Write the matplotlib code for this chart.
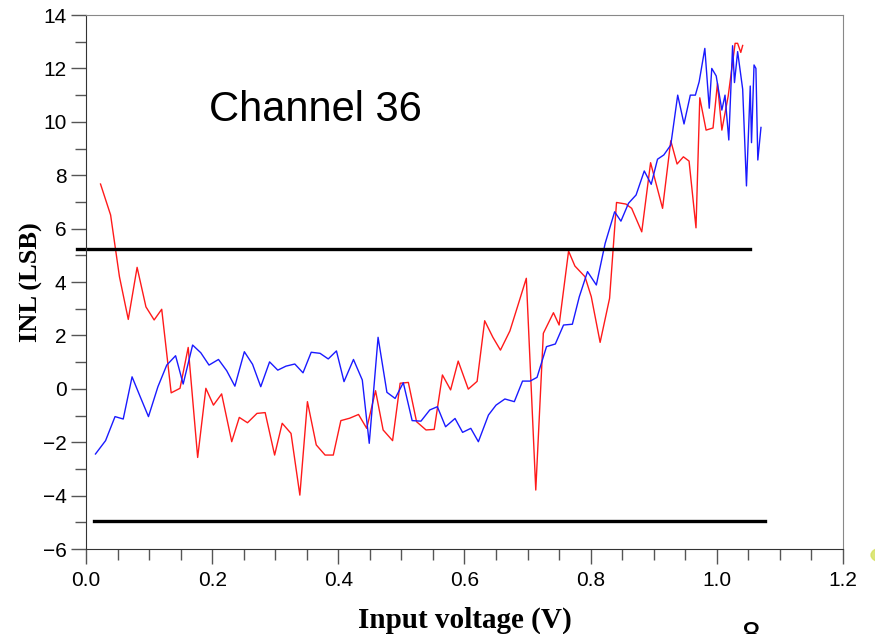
import matplotlib
matplotlib.use('Agg')
import matplotlib.pyplot as plt
from matplotlib.ticker import MultipleLocator
from matplotlib.patches import Circle

plt.rcParams['font.family'] = ['Liberation Sans', 'DejaVu Sans']

# INL curves for channel 36, two runs (red / blue)
red_v = [0.023, 0.039, 0.053, 0.067, 0.081, 0.095, 0.108, 0.120, 0.135, 0.149,
         0.162, 0.177, 0.190, 0.202, 0.215, 0.231, 0.243, 0.256, 0.271, 0.284,
         0.299, 0.311, 0.325, 0.339, 0.351, 0.365, 0.379, 0.392, 0.404, 0.418,
         0.432, 0.445, 0.459, 0.471, 0.486, 0.498, 0.511, 0.524, 0.539, 0.552,
         0.565, 0.578, 0.590, 0.606, 0.620, 0.632, 0.645, 0.657, 0.672, 0.685,
         0.698, 0.713, 0.725, 0.741, 0.750, 0.765, 0.775, 0.791, 0.801, 0.815,
         0.830, 0.841, 0.856, 0.865, 0.881, 0.895, 0.914, 0.927, 0.937, 0.947,
         0.956, 0.967, 0.973, 0.983, 0.994, 1.001, 1.008, 1.018, 1.029, 1.033,
         1.038, 1.041]
red_inl = [7.67, 6.51, 4.20, 2.60, 4.55, 3.07, 2.58, 2.98, -0.15, 0.02,
           1.55, -2.57, 0.02, -0.61, -0.19, -1.98, -1.07, -1.27, -0.92, -0.89,
           -2.48, -1.29, -1.67, -3.98, -0.48, -2.10, -2.48, -2.48, -1.19, -1.10,
           -0.96, -1.48, -0.07, -1.54, -1.94, 0.21, 0.24, -1.23, -1.54, -1.52,
           0.52, -0.04, 1.04, -0.01, 0.28, 2.55, 1.93, 1.45, 2.17, 3.15,
           4.14, -3.79, 2.08, 2.85, 2.39, 5.16, 4.60, 4.20, 3.45, 1.74,
           3.39, 6.98, 6.92, 6.76, 5.88, 8.47, 6.76, 9.29, 8.42, 8.69,
           8.53, 6.03, 10.9, 9.69, 9.77, 11.44, 9.69, 10.96, 12.94, 12.94,
           12.60, 12.86]

blue_v = [0.015, 0.031, 0.046, 0.059, 0.073, 0.086, 0.099, 0.114, 0.128, 0.142,
          0.154, 0.169, 0.182, 0.195, 0.210, 0.223, 0.236, 0.251, 0.264, 0.277,
          0.291, 0.304, 0.317, 0.331, 0.344, 0.357, 0.371, 0.384, 0.397, 0.409,
          0.424, 0.438, 0.449, 0.463, 0.477, 0.490, 0.503, 0.517, 0.531, 0.545,
          0.557, 0.570, 0.585, 0.597, 0.610, 0.622, 0.638, 0.650, 0.664, 0.679,
          0.692, 0.704, 0.715, 0.730, 0.744, 0.757, 0.771, 0.782, 0.795, 0.809,
          0.823, 0.838, 0.848, 0.860, 0.872, 0.885, 0.896, 0.906, 0.916, 0.927,
          0.938, 0.948, 0.958, 0.966, 0.972, 0.981, 0.988, 0.992, 0.999, 1.008,
          1.013, 1.019, 1.025, 1.028, 1.033, 1.041, 1.047, 1.053, 1.055, 1.059,
          1.062, 1.065, 1.070]
blue_inl = [-2.44, -1.94, -1.04, -1.13, 0.45, -0.30, -1.04, 0.08, 0.89, 1.24,
            0.18, 1.64, 1.35, 0.89, 1.10, 0.68, 0.10, 1.39, 0.92, 0.08,
            1.01, 0.70, 0.85, 0.93, 0.60, 1.37, 1.33, 1.12, 1.42, 0.27,
            1.10, 0.33, -2.04, 1.93, -0.13, -0.36, 0.23, -1.19, -1.21, -0.79,
            -0.67, -1.42, -1.11, -1.63, -1.48, -1.98, -0.98, -0.61, -0.38, -0.48,
            0.29, 0.29, 0.43, 1.58, 1.68, 2.39, 2.42, 3.45, 4.39, 3.89,
            5.45, 6.63, 6.28, 6.95, 7.26, 8.16, 7.66, 8.60, 8.76, 9.13,
            11.0, 9.92, 11.0, 11.0, 11.50, 12.75, 10.51, 12.0, 11.72, 10.44,
            11.0, 9.32, 12.85, 11.47, 12.63, 11.22, 7.60, 11.34, 9.22, 12.13,
            12.0, 8.57, 9.79]

# spec limits drawn as black bars
upper_lim = 5.22
upper_span = (-0.014, 1.053)
lower_lim = -4.96
lower_span = (0.013, 1.077)

fig = plt.figure(figsize=(8.75, 6.34), dpi=100)
ax = fig.add_axes([0.0983, 0.134, 0.8651, 0.8423])

ax.plot(red_v, red_inl, color='#ff1a1a', lw=1.0)
ax.plot(blue_v, blue_inl, color='#1a1aff', lw=1.0)
ax.plot(upper_span, [upper_lim, upper_lim], color='black', lw=2.4, clip_on=False)
ax.plot(lower_span, [lower_lim, lower_lim], color='black', lw=2.4, clip_on=False)

ax.set_xlim(0, 1.2)
ax.set_ylim(-6, 14)
ax.xaxis.set_major_locator(MultipleLocator(0.2))
ax.xaxis.set_minor_locator(MultipleLocator(0.05))
ax.yaxis.set_major_locator(MultipleLocator(2))
ax.yaxis.set_minor_locator(MultipleLocator(1))
ax.xaxis.set_major_formatter(lambda v, p: f'{v:.1f}')

for side in ['left', 'bottom']:
    ax.spines[side].set_color('#333333')
for side in ['top', 'right']:
    ax.spines[side].set_color('#888888')
ax.tick_params(which='major', length=11, width=1, color='#555555',
               labelsize=15, pad=3)
ax.tick_params(which='minor', length=8, width=1, color='#555555')
ax.tick_params(axis='x', which='major', pad=5)

ax.text(0.195, 10.04, 'Channel 36', fontsize=30, ha='left', va='baseline')

fig.text(0.531, 6 / 634, 'Input voltage (V)', fontsize=21, weight='bold',
         family='Liberation Serif', ha='center', va='baseline')
fig.text(31 / 875, 1 - 282 / 634, 'INL (LSB)', fontsize=19, weight='bold',
         family='Liberation Serif', ha='center', va='center', rotation=90)

# slide number and bullet peeking in at the edges
fig.text(751 / 875, 1 - 621 / 634, '8', fontsize=24, ha='center', va='top')
fig.patches.append(Circle((880 / 875, 1 - 555 / 634), 9 / 875,
                          transform=fig.transFigure, color='#d4e05a',
                          alpha=0.8, clip_on=False))

fig.savefig('out.png', dpi=100)
